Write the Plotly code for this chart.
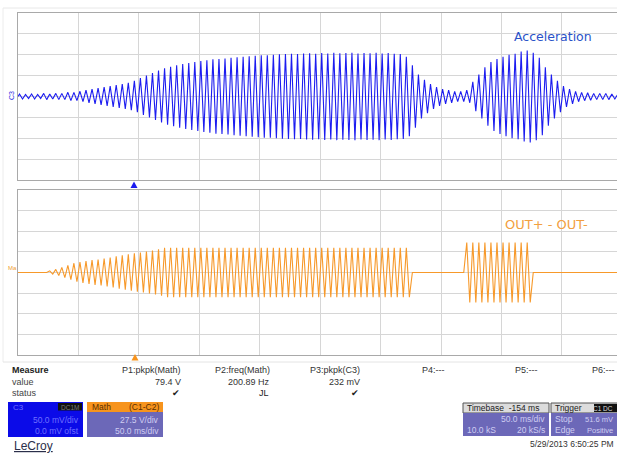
import plotly.graph_objects as go

W, H = 617, 454

# ---------------- data ----------------
# time axis: 50 ms / div, 10 div
time_div_ms = 50
n_div_y = 8
period_ms = 5.0          # ~200 Hz carrier (P2 = 200.89 Hz)

# Acceleration (C3): peak amplitude per carrier cycle, in divisions
accel_amp = [
    0.12, 0.10, 0.12, 0.10, 0.15, 0.12, 0.15, 0.15, 0.20, 0.20,
    0.25, 0.30, 0.35, 0.40, 0.45, 0.50, 0.55, 0.60, 0.65, 0.75,
    0.88, 1.00, 1.12, 1.25, 1.35, 1.42, 1.50, 1.55, 1.60, 1.65,
    1.70, 1.74, 1.78, 1.80, 1.82, 1.85, 1.88, 1.90, 1.93, 1.95,
    1.97, 1.98, 2.00, 2.02, 2.03, 2.05, 2.04, 2.06, 2.07, 2.05,
    2.08, 2.06, 2.09, 2.07, 2.08, 2.10, 2.06, 2.08, 2.07, 2.09,
    2.06, 2.08, 2.05, 2.04, 1.90, 1.50, 1.05, 0.80, 0.60, 0.45,
    0.35, 0.30, 0.25, 0.25, 0.30, 0.70, 1.05, 1.40, 1.65, 1.80,
    1.90, 2.00, 2.05, 2.15, 2.20, 2.10, 1.85, 1.40, 1.05, 0.75,
    0.50, 0.35, 0.25, 0.20, 0.18, 0.15, 0.15, 0.15, 0.12, 0.12,
]

# OUT+ - OUT- (Math): peak amplitude per carrier cycle, in divisions
out_amp = [
    0.00, 0.00, 0.00, 0.00, 0.00, 0.08, 0.15, 0.25, 0.35, 0.45,
    0.50, 0.55, 0.60, 0.63, 0.68, 0.72, 0.78, 0.83, 0.88, 0.93,
    0.97, 1.02, 1.07, 1.13, 1.20, 1.20, 1.20, 1.20, 1.20, 1.20,
    1.20, 1.20, 1.20, 1.20, 1.20, 1.20, 1.20, 1.20, 1.20, 1.20,
    1.20, 1.20, 1.20, 1.20, 1.20, 1.20, 1.20, 1.20, 1.20, 1.20,
    1.20, 1.20, 1.20, 1.20, 1.20, 1.20, 1.20, 1.20, 1.20, 1.20,
    1.20, 1.20, 1.20, 1.20, 1.20, 0.00, 0.00, 0.00, 0.00, 0.00,
    0.00, 0.00, 0.00, 0.00, 1.45, 1.45, 1.45, 1.45, 1.45, 1.45,
    1.45, 1.45, 1.45, 1.45, 1.45, 0.00, 0.00, 0.00, 0.00, 0.00,
    0.00, 0.00, 0.00, 0.00, 0.00, 0.00, 0.00, 0.00, 0.00, 0.00,
]

meas_names = ["P1:pkpk(Math)", "P2:freq(Math)", "P3:pkpk(C3)", "P4:---", "P5:---", "P6:---"]
meas_values = ["79.4 V", "200.89 Hz", "232 mV", "", "", ""]
meas_status = ["✔", "JL", "✔", "", "", ""]


def wave(amps):
    xs, ys = [0.0], [0.0]
    for k, a in enumerate(amps):
        xs += [k * period_ms + 1.25, k * period_ms + 3.75]
        ys += [a, -a]
    return xs, ys


# ---------------- helpers: pixel -> paper ----------------
def px(x):
    return x / W


def py(y):
    return 1 - y / H


FONT = "Liberation Sans, Arial, sans-serif"

fig = go.Figure()
ax, ay = wave(accel_amp)
ox, oy = wave(out_amp)
fig.add_trace(go.Scatter(x=ax, y=ay, mode="lines", line=dict(color="#1c1cf0", width=1.1),
                         xaxis="x", yaxis="y", showlegend=False, hoverinfo="skip"))
fig.add_trace(go.Scatter(x=ox, y=oy, mode="lines", line=dict(color="#f7992a", width=1.1),
                         xaxis="x2", yaxis="y2", showlegend=False, hoverinfo="skip"))

x_left = 18
x_range = [0, (W - x_left) / 60.44 * time_div_ms]
grid = "#d6d6d6"
frame = "#a9a9a9"
xcommon = dict(range=x_range, dtick=time_div_ms, tick0=0, showticklabels=False, ticks="",
               showgrid=True, gridcolor=grid, gridwidth=1, zeroline=False,
               showline=True, linecolor=frame, mirror=True, linewidth=1,
               domain=[px(x_left), 1])
ycommon = dict(range=[-n_div_y / 2, n_div_y / 2], dtick=1, tick0=0, showticklabels=False,
               ticks="", showgrid=True, gridcolor=grid, gridwidth=1, zeroline=False,
               showline=True, linecolor=frame, mirror=True, linewidth=1)

fig.update_layout(
    width=W, height=H, margin=dict(l=0, r=0, t=0, b=0),
    paper_bgcolor="white", plot_bgcolor="white",
    xaxis=dict(**xcommon, anchor="y"),
    yaxis=dict(**ycommon, domain=[py(180), py(13)], anchor="x"),
    xaxis2=dict(**xcommon, anchor="y2"),
    yaxis2=dict(**ycommon, domain=[py(355), py(190)], anchor="x2"),
)

shapes = []
annotations = []


def rect(x0, y0, x1, y1, fill, line=None):
    shapes.append(dict(type="rect", xref="paper", yref="paper",
                       x0=px(x0), x1=px(x1), y0=py(y1), y1=py(y0),
                       fillcolor=fill, line=dict(color=line or fill, width=1 if line else 0),
                       layer="above"))


def hline(x0, x1, y, color):
    shapes.append(dict(type="line", xref="paper", yref="paper", x0=px(x0), x1=px(x1),
                       y0=py(y), y1=py(y), line=dict(color=color, width=1)))


def vline(x, y0, y1, color):
    shapes.append(dict(type="line", xref="paper", yref="paper", x0=px(x), x1=px(x),
                       y0=py(y0), y1=py(y1), line=dict(color=color, width=1)))


def tri(x, y, color):
    path = "M {} {} L {} {} L {} {} Z".format(px(x - 3.5), py(y + 3), px(x + 3.5), py(y + 3),
                                             px(x), py(y - 3.5))
    shapes.append(dict(type="path", xref="paper", yref="paper", path=path,
                       fillcolor=color, line=dict(color=color, width=0)))


def text(x, y, s, size=9, color="#333333", anchor="left", bold=False, family=FONT, angle=0):
    annotations.append(dict(xref="paper", yref="paper", x=px(x), y=py(y), text=("<b>%s</b>" % s) if bold else s,
                            showarrow=False, xanchor=anchor, yanchor="middle", textangle=angle,
                            font=dict(size=size, color=color, family=family)))


# outer faint frame
hline(3, W, 8, "#e8e8e8")
vline(3, 8, 362, "#ececec")
hline(3, W, 362, "#e4e4e4")

# trigger markers
tri(134, 185, "#1a1af0")
tri(135, 357.5, "#f7941d")

# trace labels
text(12, 96, "C3", size=7, color="#2a2ae0", anchor="center", angle=-90)
text(12, 268, "Ma", size=6, color="#f0a030", anchor="center")
text(553, 37, "Acceleration", size=12.5, color="#2a52c8", anchor="center", family="DejaVu Sans")
text(546, 225, "OUT+ - OUT-", size=13, color="#f2a040", anchor="center", family="DejaVu Sans")

# measure table
text(10, 370, "Measure", size=9, color="#222222", bold=True)
text(10, 381.5, "value", size=9, color="#444444")
text(10, 393, "status", size=9, color="#444444")
name_right = [183, 272, 362]
for i in range(3):
    text(name_right[i], 370, meas_names[i], anchor="right")
    text(name_right[i], 381.5, meas_values[i], anchor="right")
    text(name_right[i] - 1, 393, meas_status[i], anchor="right", size=9, color="#222222")
for xx, nm in zip([420, 513, 590], meas_names[3:]):
    text(xx, 370, nm)

# C3 box
box_text = "#6f70ff"
rect(8, 402, 83, 437, "#0b0be8")
text(11, 407, "C3", size=8, color=box_text)
rect(58, 403, 82, 410.5, "#111111")
text(70, 407, "DC1M", size=6.5, color="#7a7a7a", anchor="center")
text(81, 419.5, "50.0 mV/div", size=8.5, color=box_text, anchor="right")
text(81, 431, "0.0 mV ofst", size=8.5, color=box_text, anchor="right")

# Math box
purple = "#6c68b8"
light = "#cfcdf2"
rect(87, 402, 163, 412, "#f7941d")
rect(87, 412, 163, 437, purple)
text(90, 407, "Math", size=8.5, color="#5a2e00")
text(161, 407, "(C1-C2)", size=8.5, color="#5a2e00", anchor="right")
text(161, 419.5, "27.5 V/div", size=8.5, color=light, anchor="right")
text(161, 431, "50.0 ms/div", size=8.5, color=light, anchor="right")

# Timebase box
rect(463, 403, 549, 413, "#dcdcdc", "#555555")
rect(463, 413, 549, 436, purple)
text(465, 408, "Timebase  -154 ms", size=8.5, color="#222222")
text(547, 419, "50.0 ms/div", size=8.5, color=light, anchor="right")
text(465, 430, "10.0 kS", size=8.5, color=light)
text(547, 430, "20 kS/s", size=8.5, color=light, anchor="right")

# Trigger box
rect(551, 403, 622, 413, "#dcdcdc", "#555555")
rect(551, 413, 622, 436, purple)
text(553, 408, "Trigger", size=8.5, color="#222222")
rect(594, 404, 622, 412, "#111111")
text(615, 408, "C1 DC", size=6.5, color="#dddddd", anchor="right")
text(553, 419, "Stop", size=8.5, color=light)
text(615, 419, "51.6 mV", size=7.5, color=light, anchor="right")
text(553, 430, "Edge", size=8.5, color=light)
text(615, 430, "Positive", size=7.5, color=light, anchor="right")

# footer
text(616, 444, "5/29/2013 6:50:25 PM", size=8.5, color="#333333", anchor="right")
text(12, 446, "<u>LeCroy</u>", size=12, color="#2b2f4a")

fig.update_layout(shapes=shapes, annotations=annotations)
fig.write_html("out.html")
